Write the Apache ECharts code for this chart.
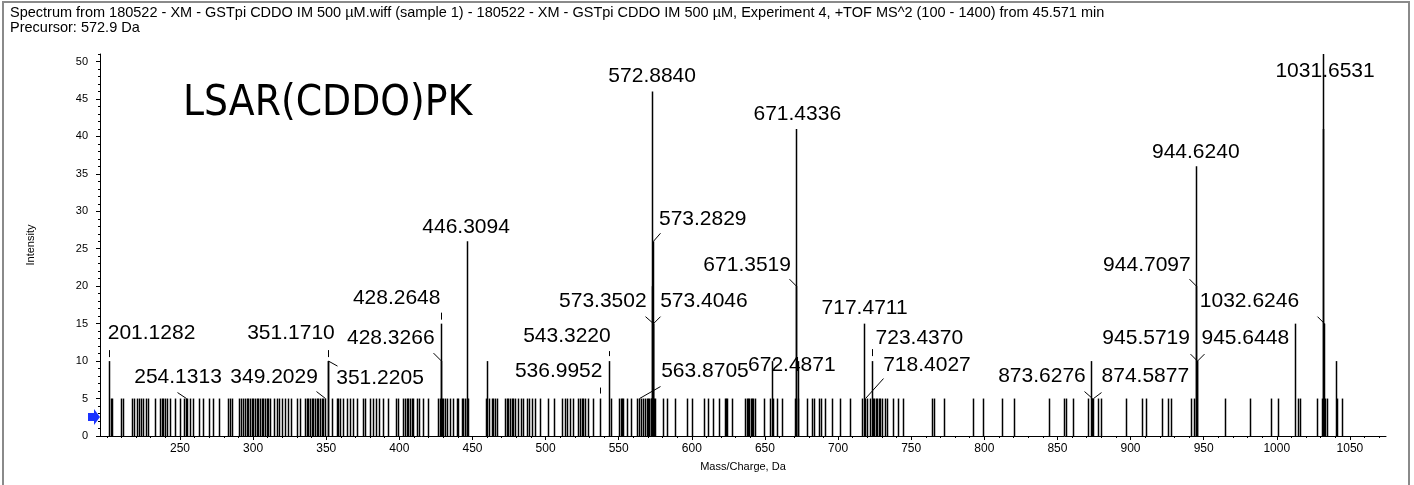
<!DOCTYPE html>
<html><head><meta charset="utf-8">
<script src="https://cdn.jsdelivr.net/npm/echarts@6/dist/echarts.min.js"></script>
<style>
html,body{margin:0;padding:0;background:#fff;}
#chart{position:absolute;left:0;top:0;width:1414px;height:485px;}
#frame{position:absolute;left:2px;top:1px;width:1408px;height:484px;border:2px solid #8a8a8a;border-bottom:none;box-sizing:border-box;pointer-events:none;}
</style></head><body>
<div id="chart"></div><div id="frame"></div>
<script>
// ---------- DATA ----------
const titleLines = [
  'Spectrum from 180522 - XM - GSTpi CDDO IM 500 \u00b5M.wiff (sample 1) - 180522 - XM - GSTpi CDDO IM 500 \u00b5M, Experiment 4, +TOF MS^2 (100 - 1400) from 45.571 min',
  'Precursor: 572.9 Da'
];
const annotation = 'LSAR(CDDO)PK';
const xTickLabels = [250,300,350,400,450,500,550,600,650,700,750,800,850,900,950,1000,1050];
const yTickLabels = [0,5,10,15,20,25,30,35,40,45,50];

// labelled peaks (m/z, intensity)
const peakMz  = [201.1282,254.1313,349.2029,351.1710,351.2205,428.2648,428.3266,446.3094,536.9952,543.3220,
                 563.8705,572.8840,573.2829,573.3502,573.4046,671.3519,671.4336,672.4871,717.4711,718.4027,
                 723.4370,873.6276,874.5877,944.6240,944.7097,945.5719,945.6448,1031.6531,1032.6246];
const peakInt = [10,5,5,10,10,15,10,26,5,10,
                 5,46,26,15,15,20,41,10,15,5,
                 10,5,5,36,20,10,10,51,15];

// other unlabelled taller peaks
const otherMz  = [460.1,573.1,654.6,873.0,1012.5,1031.75,1040.4];
const otherInt = [10,20,10,10,15,41,10];

// low-level peaks (all read at intensity 5)
const NOISE_LEVEL = 5;
const noiseMz = [
 202.8,203.7,209.7,210.8,217.0,218.8,220.4,222.2,223.3,224.9,226.5,227.9,232.7,236.3,237.5,238.6,240.0,241.3,243.2,246.6,
 250.0,253.0,255.0,256.8,259.1,262.8,266.0,270.1,272.3,276.9,283.0,284.2,285.3,290.6,291.9,293.3,294.4,295.6,296.7,297.9,
 299.0,300.1,301.3,302.4,303.6,304.7,305.8,307.0,308.1,309.3,310.4,311.5,314.3,316.1,317.9,319.5,321.8,324.1,325.7,329.8,
 332.1,335.5,336.6,337.7,338.9,340.0,341.2,342.3,343.4,344.6,345.7,346.9,348.0,353.7,357.1,358.3,359.4,361.7,364.0,366.2,
 368.5,370.8,374.9,376.5,379.9,382.2,384.0,386.3,389.0,392.4,397.7,399.3,402.2,403.8,405.0,406.1,407.3,408.4,409.5,411.8,
 413.6,416.4,419.8,426.6,427.8,428.9,430.1,431.2,432.3,434.6,436.9,439.2,440.3,442.6,443.7,444.9,446.0,447.2,459.2,461.5,
 463.1,464.2,465.4,466.5,472.2,473.4,474.5,475.6,476.8,477.9,479.1,481.3,482.9,484.8,487.0,488.9,490.7,492.7,496.2,501.9,
 505.8,511.0,513.2,514.8,516.7,518.9,521.9,523.5,524.6,525.8,526.9,529.2,532.6,544.5,550.4,551.3,552.0,553.1,555.9,558.1,
 562.7,565.0,566.8,567.9,569.1,570.2,570.9,571.8,572.3,573.9,574.5,580.5,583.2,588.5,596.4,599.9,608.3,611.3,614.7,618.8,
 622.6,623.3,624.2,627.2,636.3,637.5,638.6,639.3,640.2,641.1,642.0,643.2,649.3,653.4,655.7,658.0,661.4,670.9,672.9,678.5,
 681.9,683.5,687.1,688.1,691.0,695.6,701.3,708.1,716.5,719.5,722.0,724.1,724.8,725.9,726.8,727.7,728.6,729.8,732.1,733.6,
 737.3,741.2,744.6,764.0,765.5,772.4,792.6,799.4,812.4,820.6,844.5,854.8,855.7,860.9,871.2,878.0,879.9,896.7,907.7,910.6,
 921.8,925.4,927.7,941.2,943.7,964.6,982.0,996.1,1001.1,1014.3,1015.9,1027.8,1031.0,1033.0,1034.6,1041.3,1044.4
];

// ---------- LABEL LAYOUT (pixel offsets from the peak top; not data) ----------
// [dx, dy, gap, ax, ay]  text centre = top+(dx,dy); leader from top-(0,gap) to top+(ax,ay); gap null => no leader
const labelLayout = [
 [43,-28,4,0,-11],[-8,-21,0,-9,-6],[-51,-21,0,-9,-7],[-37,-28,4,0,-11],[52,17,0,9,5],
 [-44,-25,4,0,-11],[-50,-23,0,-8,-8],[-1,-14,null],[-41,-27,5,0,-11],[-42,-25,5,0,-10],
 [66,-27,0,21,-12],[0,-15,null],[50,-22,0,7,-8],[-50,-22,0,-8,-7],[51,-22,0,7,-7],
 [-49,-21,0,-7,-7],[1,-15,null],[-6,4,null],[1,-15,null],[62,-33,0,18,-20],
 [47,-23,5,0,-12],[-50,-22,0,-8,-7],[52,-22,0,8,-6],[0,-14,null],[-49,-21,0,-7,-7],
 [-51,-23,0,-7,-7],[48,-23,0,7,-7],[2,17,null],[-75,-22,0,-7,-7]
];

// ---------- CHART ----------
const FONT = "'Liberation Sans', Arial, sans-serif";
const chart = echarts.init(document.getElementById('chart'), null, {renderer:'canvas'});

function stick(params, api){
  const top = api.coord([api.value(0), api.value(1)]);
  const base = api.coord([api.value(0), 0]);
  const x = Math.round(top[0]) + 0.5;
  return {type:'line', shape:{x1:x, y1:base[1], x2:x, y2:top[1]}, style:{stroke:'#000', lineWidth:1.5}};
}
function peakLabel(params, api){
  const i = params.dataIndex;
  const p = api.coord([api.value(0), api.value(1)]);
  const L = labelLayout[i];
  const px = Math.round(p[0]) + 0.5;
  const ch = [{type:'text', x:p[0]+L[0], y:p[1]+L[1],
    style:{text:peakMz[i].toFixed(4), fontSize:21, fontFamily:FONT, fill:'#000', align:'center', verticalAlign:'middle'}}];
  if (L[2] !== null) {
    ch.push({type:'line', shape:{x1:px, y1:p[1]-L[2], x2:px+L[3], y2:p[1]+L[4]}, style:{stroke:'#000', lineWidth:1}});
  }
  return {type:'group', children:ch};
}

const xMinor = []; for (let v = 200; v <= 1070; v += 10) xMinor.push(v);
const yMinor = []; for (let v = 0; v <= 51; v += 1) yMinor.push(v);
const X_MIN = 195.3, X_MAX = 1074.7;

chart.setOption({
  animation:false,
  textStyle:{fontFamily:FONT},
  title:{text:titleLines.join('\n'), left:5, top:0,
    textStyle:{fontSize:14.5, fontWeight:'normal', color:'#000', lineHeight:15, fontFamily:FONT}},
  grid:{left:100, right:28, top:54, bottom:49, containLabel:false},
  xAxis:[
    {type:'value', min:X_MIN, max:X_MAX, position:'bottom',
     axisLine:{show:true, lineStyle:{color:'#000', width:1}},
     axisTick:{show:true, customValues:xTickLabels, length:4, lineStyle:{color:'#000'}},
     axisLabel:{customValues:xTickLabels, fontSize:12, color:'#000', margin:7, fontFamily:FONT,
       formatter: v => String(v)},
     splitLine:{show:false},
     name:'Mass/Charge, Da', nameLocation:'middle', nameGap:25,
     nameTextStyle:{fontSize:11, color:'#000', fontFamily:FONT}},
    {type:'value', min:X_MIN, max:X_MAX, position:'bottom', offset:0,
     axisLine:{show:false}, axisTick:{show:true, customValues:xMinor, length:2, lineStyle:{color:'#000'}},
     axisLabel:{show:false}, splitLine:{show:false}}
  ],
  yAxis:[
    {type:'value', min:0, max:51, position:'left',
     axisLine:{show:true, lineStyle:{color:'#000', width:1}},
     axisTick:{show:true, customValues:yTickLabels, length:4, lineStyle:{color:'#000'}},
     axisLabel:{customValues:yTickLabels, fontSize:11, color:'#000', margin:12, fontFamily:FONT},
     splitLine:{show:false},
     name:'Intensity', nameLocation:'middle', nameGap:64, nameRotate:90,
     nameTextStyle:{fontSize:11, color:'#000', fontFamily:FONT}},
    {type:'value', min:0, max:51, position:'left', offset:0,
     axisLine:{show:false}, axisTick:{show:true, customValues:yMinor, length:2, lineStyle:{color:'#000'}},
     axisLabel:{show:false}, splitLine:{show:false}}
  ],
  series:[
    {type:'custom', name:'noise', silent:true, renderItem:stick, clip:true,
     data:noiseMz.map(m => [m, NOISE_LEVEL])},
    {type:'custom', name:'other', silent:true, renderItem:stick, clip:true,
     data:otherMz.map((m,i) => [m, otherInt[i]])},
    {type:'custom', name:'peaks', silent:true, renderItem:stick, clip:true,
     data:peakMz.map((m,i) => [m, peakInt[i]])},
    {type:'custom', name:'labels', silent:true, renderItem:peakLabel, clip:false, z:5,
     data:peakMz.map((m,i) => [m, peakInt[i]])}
  ],
  graphic:[
    {type:'text', left:183, top:83, style:{text:annotation, fontSize:42,
      fontFamily:"'Liberation Sans Narrow', 'DejaVu Sans Condensed', sans-serif", fill:'#000'}},
    {type:'polygon', shape:{points:[[88,413],[94,413],[94,409],[100,417],[94,425],[94,421],[88,421]]},
     style:{fill:'#1a33ff'}}
  ]
});
</script>
</body></html>
